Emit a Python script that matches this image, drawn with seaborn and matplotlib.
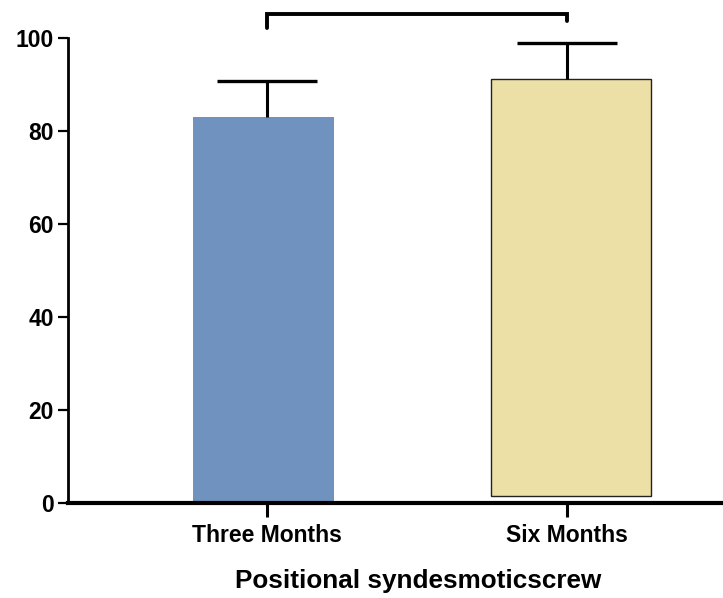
import numpy as np
import pandas as pd
import matplotlib
matplotlib.use('Agg')
from matplotlib import pyplot as plt
import seaborn as sns

sns.set_style("ticks")
plt.rcParams['font.family'] = ['Liberation Sans', 'DejaVu Sans']
plt.rcParams['text.color'] = 'black'
plt.rcParams['axes.labelcolor'] = 'black'
plt.rcParams['xtick.color'] = 'black'
plt.rcParams['ytick.color'] = 'black'
plt.rcParams['axes.edgecolor'] = 'black'

# Data
groups = ['Three Months', 'Six Months']
means = [83.0, 91.2]
sds = [7.8, 7.7]
colors = ['#6F93BE', '#EDE0A6']
bracket_y = 105.2

df = pd.DataFrame({'group': groups, 'value': means})

fig = plt.figure(figsize=(7.23, 5.98), dpi=100)
ax = fig.add_axes([0.094, 0.159, 0.906, 0.833])

sns.barplot(data=df, x='group', y='value', hue='group', palette=colors,
            errorbar=None, legend=False, width=0.5, saturation=1, ax=ax)

# blue bar has no outline, yellow bar has a thin dark one
bar_geom = [(-0.247, 0.47, 0.0, 'none'), (-0.253, 0.533, 1.5, '#222222')]
for idx, patch in enumerate(ax.patches):
    x0, w, y0, ec = bar_geom[idx]
    patch.set_x(idx + x0)
    patch.set_width(w)
    patch.set_y(y0)
    patch.set_height(means[idx] - y0)
    patch.set_edgecolor(ec)
    patch.set_linewidth(1.0)

# upward-only error bars
_, caps, _ = ax.errorbar(np.arange(len(groups)), means,
                         yerr=[np.zeros(len(sds)), sds],
                         fmt='none', ecolor='black', elinewidth=2.2,
                         capsize=36, capthick=2.4, zorder=5)
caps[0].set_visible(False)

# significance bracket
ax.plot([0, 0, 1, 1], [102.2, bracket_y, bracket_y, 103.6],
        color='black', lw=2.8, solid_joinstyle='miter', clip_on=False)

ax.set_xlim(-0.663, 1.52)
ax.set_ylim(0, 107.1)
ax.set_yticks([0, 20, 40, 60, 80, 100])
ax.spines['top'].set_visible(False)
ax.spines['right'].set_visible(False)
ax.spines['left'].set_bounds(0, 100)
ax.spines['left'].set_linewidth(2.0)
ax.spines['bottom'].set_linewidth(3.0)
ax.tick_params(axis='y', length=7, width=1.6, labelsize=16.5, pad=3)
ax.tick_params(axis='x', length=10, width=2.2, labelsize=16.5, pad=5)
for lab in ax.get_xticklabels() + ax.get_yticklabels():
    lab.set_fontweight('bold')

ax.set_ylabel('')
ax.set_xlabel('Positional syndesmoticscrew', fontsize=18.8, fontweight='bold')
ax.xaxis.set_label_coords(0.535, -0.133)

fig.savefig('out.png', dpi=100)
